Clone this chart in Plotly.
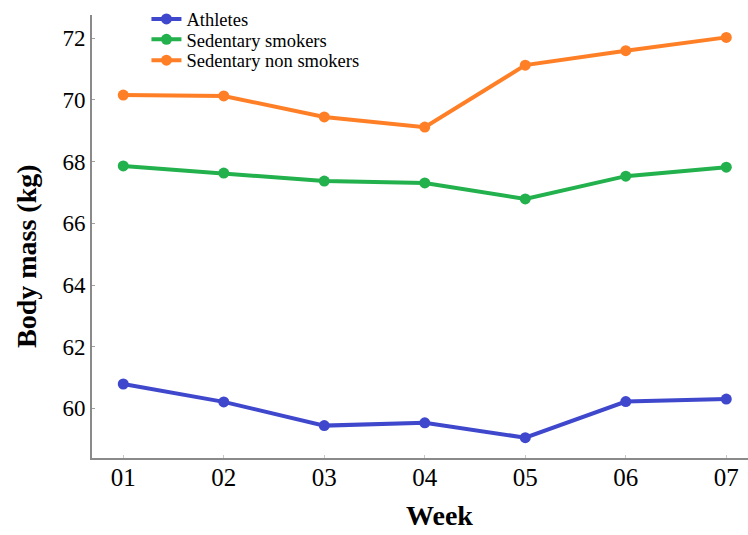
import plotly.graph_objects as go

weeks = ["01", "02", "03", "04", "05", "06", "07"]
athletes = [60.79, 60.21, 59.44, 59.53, 59.05, 60.22, 60.30]
smokers = [67.86, 67.63, 67.37, 67.31, 66.79, 67.53, 67.82]
non_smokers = [70.16, 70.13, 69.45, 69.12, 71.13, 71.60, 72.03]
y_ticks = [60, 62, 64, 66, 68, 70, 72]

series = [
    ("Athletes", athletes, "#3F48CC"),
    ("Sedentary smokers", smokers, "#22B14C"),
    ("Sedentary non smokers", non_smokers, "#FF7F27"),
]

serif = "Liberation Serif, Times New Roman, serif"

# one single-entry legend per series so the rows can sit tightly stacked
legend_names = ["legend", "legend2", "legend3"]
legend_rows_y = [0.990, 0.944, 0.897]

fig = go.Figure()
for (name, vals, color), lg in zip(series, legend_names):
    fig.add_trace(go.Scatter(
        x=list(range(len(weeks))), y=vals, name=name,
        mode="lines+markers",
        line=dict(color=color, width=4),
        marker=dict(color=color, size=11),
        legend=lg,
    ))

legend_style = dict(
    xanchor="left", yanchor="middle",
    font=dict(family=serif, size=18.5, color="black"),
    bgcolor="rgba(0,0,0,0)", borderwidth=0,
)
layout_legends = {}
for lg, ly in zip(legend_names, legend_rows_y):
    layout_legends[lg] = dict(x=0.083, y=ly, **legend_style)

fig.update_layout(
    width=748, height=535,
    margin=dict(l=92, r=0, t=15, b=77),
    paper_bgcolor="white", plot_bgcolor="white",
    font=dict(family=serif, color="black"),
    showlegend=True,
    xaxis=dict(
        range=[-0.311, 6.216],
        tickmode="array", tickvals=list(range(len(weeks))), ticktext=weeks,
        tickfont=dict(size=25), ticks="inside", ticklen=3, tickcolor="#c8c8c8",
        ticklabelstandoff=-4,
        showline=True, linecolor="#8a8a8a", linewidth=2,
        showgrid=False, zeroline=False,
    ),
    yaxis=dict(
        range=[58.39, 72.756],
        tickmode="array", tickvals=y_ticks,
        tickfont=dict(size=23), ticks="inside", ticklen=3, tickcolor="#a0a0a0",
        showline=True, linecolor="#8a8a8a", linewidth=2,
        showgrid=False, zeroline=False,
    ),
    annotations=[
        dict(text="<b>Week</b>", xref="paper", yref="paper",
             x=0.530, y=-0.1700, xanchor="center", yanchor="bottom",
             showarrow=False, font=dict(family=serif, size=28, color="black")),
        dict(text="<b>Body mass (kg)</b>", xref="paper", yref="paper",
             x=-0.099, y=0.456, xanchor="center", yanchor="middle",
             textangle=-90, showarrow=False,
             font=dict(family=serif, size=28, color="black")),
    ],
    **layout_legends,
)

fig.write_html("out.html")
